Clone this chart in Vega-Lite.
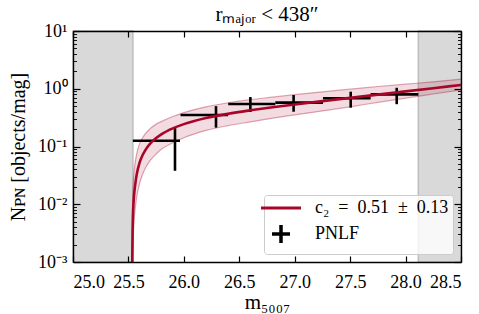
{
  "$schema": "https://vega.github.io/schema/vega-lite/v6.json",
  "width": 388,
  "height": 231,
  "autosize": {"type": "none"},
  "padding": {"left": 73, "top": 31, "right": 18, "bottom": 52},
  "background": "white",
  "title": {"text": "rₘₐⱼₒᵣ < 438″", "font": "Liberation Serif", "fontSize": 21, "fontWeight": "normal", "color": "black", "offset": -3},
  "datasets": {
    "curve": [
      {"m": 25.533, "n": 0.0003, "lo": 0.00005, "hi": 0.0009},
      {"m": 25.535, "n": 0.0012, "lo": 0.00038, "hi": 0.0038},
      {"m": 25.540, "n": 0.0055, "lo": 0.0018, "hi": 0.0162},
      {"m": 25.550, "n": 0.0135, "lo": 0.0048, "hi": 0.0355},
      {"m": 25.560, "n": 0.021, "lo": 0.0080, "hi": 0.0515},
      {"m": 25.575, "n": 0.033, "lo": 0.0134, "hi": 0.0756},
      {"m": 25.600, "n": 0.052, "lo": 0.0227, "hi": 0.111},
      {"m": 25.625, "n": 0.069, "lo": 0.0319, "hi": 0.139},
      {"m": 25.650, "n": 0.085, "lo": 0.0411, "hi": 0.164},
      {"m": 25.700, "n": 0.114, "lo": 0.0585, "hi": 0.207},
      {"m": 25.750, "n": 0.140, "lo": 0.0743, "hi": 0.244},
      {"m": 25.800, "n": 0.164, "lo": 0.0902, "hi": 0.272},
      {"m": 25.900, "n": 0.206, "lo": 0.116, "hi": 0.330},
      {"m": 26.000, "n": 0.244, "lo": 0.142, "hi": 0.387},
      {"m": 26.200, "n": 0.311, "lo": 0.190, "hi": 0.487},
      {"m": 26.400, "n": 0.369, "lo": 0.230, "hi": 0.572},
      {"m": 26.600, "n": 0.423, "lo": 0.267, "hi": 0.648},
      {"m": 26.800, "n": 0.478, "lo": 0.309, "hi": 0.715},
      {"m": 27.000, "n": 0.534, "lo": 0.353, "hi": 0.790},
      {"m": 27.250, "n": 0.611, "lo": 0.413, "hi": 0.883},
      {"m": 27.500, "n": 0.696, "lo": 0.487, "hi": 0.983},
      {"m": 27.750, "n": 0.792, "lo": 0.581, "hi": 1.093},
      {"m": 28.000, "n": 0.900, "lo": 0.690, "hi": 1.201},
      {"m": 28.250, "n": 1.023, "lo": 0.812, "hi": 1.318},
      {"m": 28.500, "n": 1.163, "lo": 0.956, "hi": 1.464}
    ],
    "pts": [
      {"m": 25.92, "n": 0.126, "nlo": 0.038, "nhi": 0.218, "mlo": 25.54, "mhi": 25.965},
      {"m": 26.29, "n": 0.351, "nlo": 0.212, "nhi": 0.50, "mlo": 25.97, "mhi": 26.40},
      {"m": 26.60, "n": 0.544, "nlo": 0.396, "nhi": 0.72, "mlo": 26.40, "mhi": 26.825},
      {"m": 26.99, "n": 0.574, "nlo": 0.40, "nhi": 0.78, "mlo": 26.825, "mhi": 27.255},
      {"m": 27.505, "n": 0.684, "nlo": 0.47, "nhi": 0.89, "mlo": 27.255, "mhi": 27.685},
      {"m": 27.92, "n": 0.80, "nlo": 0.54, "nhi": 1.04, "mlo": 27.685, "mhi": 28.115}
    ],
    "shade": [
      {"a": 25.0, "b": 25.54},
      {"a": 28.115, "b": 28.5}
    ]
  },
  "resolve": {"scale": {"x": "shared", "y": "shared", "color": "shared"}, "axis": {"x": "independent", "y": "independent"}},
  "layer": [
    {
      "data": {"name": "shade"},
      "mark": {"type": "rect", "fill": "#d9d9d9", "stroke": "#bdbdbd", "strokeWidth": 1.5},
      "encoding": {
        "x": {"field": "a", "type": "quantitative", "scale": {"domain": [25, 28.5], "nice": false, "zero": false}, "axis": null},
        "x2": {"field": "b"}
      }
    },
    {
      "data": {"name": "curve"},
      "mark": {"type": "area", "color": "#a60628", "opacity": 0.14, "clip": true, "interpolate": "monotone"},
      "encoding": {
        "x": {"field": "m", "type": "quantitative", "scale": {"domain": [25, 28.5], "nice": false, "zero": false},
          "axis": {"orient": "bottom", "values": [25, 25.5, 26, 26.5, 27, 27.5, 28, 28.5], "format": ".1f", "tickSize": -6, "tickWidth": 1.2, "labelPadding": 17, "title": "m₅₀₀₇", "titleFontSize": 21, "titlePadding": 0, "domain": true, "zindex": 1}},
        "y": {"field": "lo", "type": "quantitative", "scale": {"type": "log", "domain": [0.001, 10], "nice": false},
          "axis": {"orient": "left", "values": [0.001, 0.01, 0.1, 1, 10], "labelExpr": "datum.value >= 9 ? '10¹' : datum.value >= 0.9 ? '10⁰' : datum.value >= 0.09 ? '10⁻¹' : datum.value >= 0.009 ? '10⁻²' : '10⁻³'", "tickSize": -7, "tickWidth": 1.2, "labelPadding": 13, "title": "Nᴘɴ [objects/mag]", "titlePadding": 9, "domain": true, "zindex": 1}},
        "y2": {"field": "hi"}
      }
    },
    {
      "data": {"name": "curve"},
      "mark": {"type": "line", "color": "#a60628", "opacity": 0.35, "strokeWidth": 1.2, "clip": true, "interpolate": "monotone"},
      "encoding": {
        "x": {"field": "m", "type": "quantitative",
          "axis": {"orient": "top", "values": [25, 25.5, 26, 26.5, 27, 27.5, 28, 28.5], "labels": false, "tickSize": -6, "tickWidth": 1.2, "title": null, "domain": true, "zindex": 1}},
        "y": {"field": "hi", "type": "quantitative",
          "axis": {"orient": "left", "values": [0.002,0.003,0.004,0.005,0.006,0.007,0.008,0.009,0.02,0.03,0.04,0.05,0.06,0.07,0.08,0.09,0.2,0.3,0.4,0.5,0.6,0.7,0.8,0.9,2,3,4,5,6,7,8,9], "labels": false, "tickSize": -3.5, "tickWidth": 0.9, "title": null, "domain": false, "zindex": 1}}
      }
    },
    {
      "data": {"name": "curve"},
      "mark": {"type": "line", "color": "#a60628", "opacity": 0.35, "strokeWidth": 1.2, "clip": true, "interpolate": "monotone"},
      "encoding": {
        "x": {"field": "m", "type": "quantitative", "axis": null},
        "y": {"field": "lo", "type": "quantitative",
          "axis": {"orient": "right", "values": [0.001, 0.01, 0.1, 1, 10], "labels": false, "tickSize": -7, "tickWidth": 1.2, "title": null, "domain": true, "zindex": 1}}
      }
    },
    {
      "data": {"name": "pts"},
      "mark": {"type": "rule", "strokeWidth": 2.6, "clip": true},
      "encoding": {
        "x": {"field": "mlo", "type": "quantitative", "axis": null},
        "x2": {"field": "mhi"},
        "y": {"field": "n", "type": "quantitative", "axis": null},
        "color": {"datum": "PNLF", "type": "nominal"}
      }
    },
    {
      "data": {"name": "pts"},
      "mark": {"type": "rule", "strokeWidth": 2.6, "clip": true},
      "encoding": {
        "x": {"field": "m", "type": "quantitative", "axis": null},
        "y": {"field": "nlo", "type": "quantitative", "axis": null},
        "y2": {"field": "nhi"},
        "color": {"datum": "PNLF", "type": "nominal"}
      }
    },
    {
      "data": {"name": "curve"},
      "mark": {"type": "line", "strokeWidth": 2.6, "clip": true, "interpolate": "monotone"},
      "encoding": {
        "x": {"field": "m", "type": "quantitative", "axis": null},
        "y": {"field": "n", "type": "quantitative",
          "axis": {"orient": "right", "values": [0.002,0.003,0.004,0.005,0.006,0.007,0.008,0.009,0.02,0.03,0.04,0.05,0.06,0.07,0.08,0.09,0.2,0.3,0.4,0.5,0.6,0.7,0.8,0.9,2,3,4,5,6,7,8,9], "labels": false, "tickSize": -3.5, "tickWidth": 0.9, "title": null, "domain": false, "zindex": 1}},
        "color": {"datum": "c₂ = 0.51 ± 0.13", "type": "nominal",
          "scale": {"domain": ["c₂ = 0.51 ± 0.13", "PNLF"], "range": ["#a60628", "black"]},
          "legend": {
            "title": null, "orient": "bottom-right", "offset": 8,
            "fillColor": "rgba(255,255,255,0.8)", "strokeColor": "#cccccc", "cornerRadius": 3, "padding": 4,
            "labelFont": "Liberation Serif", "labelFontSize": 18, "labelColor": "black",
            "labelOffset": 25, "symbolOffset": 4, "rowPadding": 1,
            "symbolSize": 400, "symbolStrokeWidth": 3,
            "encode": {
              "symbols": {"update": {
                "shape": {"signal": "datum.value === 'PNLF' ? 'M-1,0H1M0,-1V1' : 'M-2,0H2'"},
                "size": {"signal": "datum.value === 'PNLF' ? 324 : 400"},
                "strokeWidth": {"signal": "datum.value === 'PNLF' ? 3.5 : 3"},
                "fill": {"value": "transparent"}
              }},
              "labels": {"update": {
                "text": {"signal": "datum.value === 'PNLF' ? 'PNLF' : 'c₂\u2002=\u20020.51\u2002±\u20020.13'"}
              }}
            }
          }}
      }
    }
  ],
  "config": {
    "view": {"stroke": null},
    "axis": {"grid": false, "domainColor": "black", "domainWidth": 1.4, "tickColor": "black", "labelColor": "black", "labelFont": "Liberation Serif", "labelFontSize": 18, "titleFont": "Liberation Serif", "titleFontSize": 20, "titleFontWeight": "normal", "titleColor": "black"}
  }
}
